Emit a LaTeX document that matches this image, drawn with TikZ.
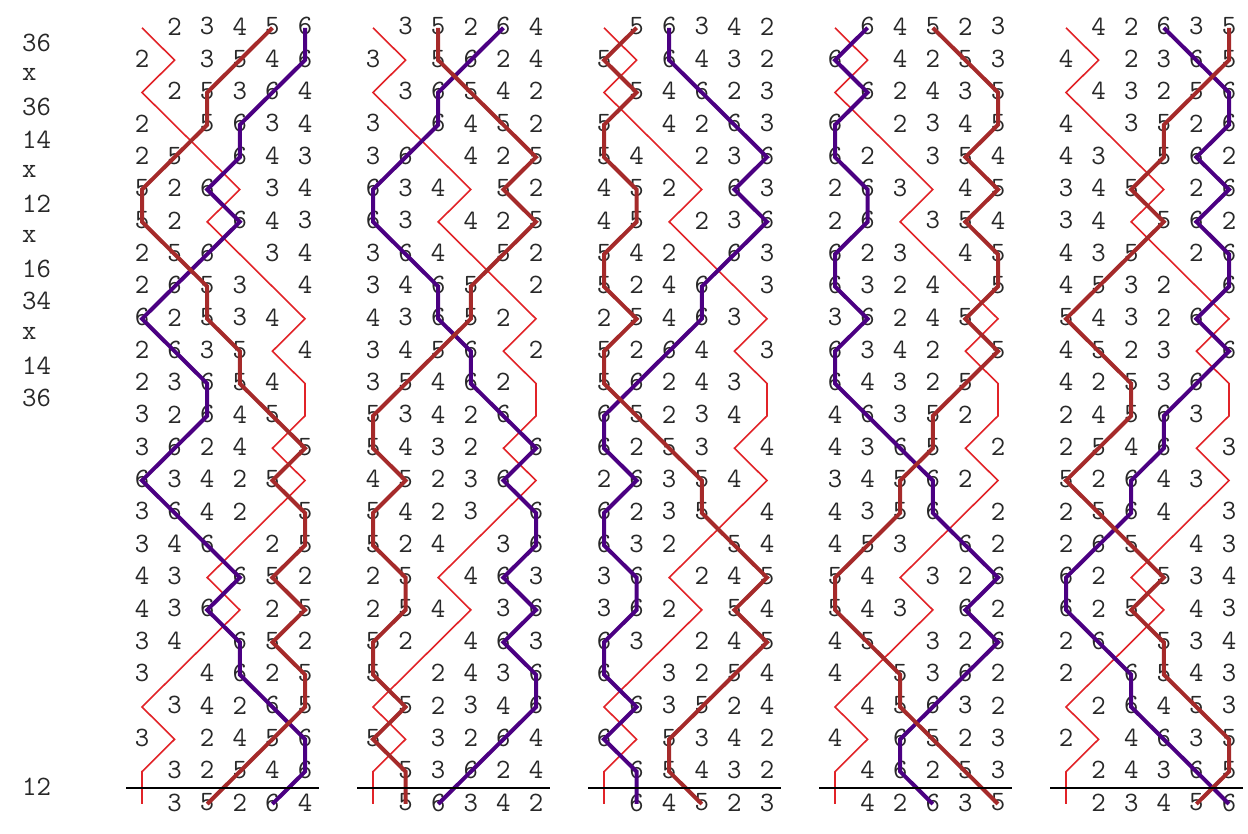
\documentclass[tikz,border=0pt]{standalone}
\usepackage{xcolor}
\usepackage{tikz}
\definecolor{trebred}{RGB}{225,35,40}
\definecolor{fivebrown}{RGB}{165,42,42}
\definecolor{sixpurple}{RGB}{75,0,130}
\definecolor{inkgray}{RGB}{40,40,40}
\tikzset{
  digit/.style={inner sep=0pt,text=inkgray,font=\ttfamily\fontsize{28}{28}\selectfont},
  pn/.style={anchor=west,inner sep=0pt,text=inkgray,font=\ttfamily\fontsize{28}{28}\selectfont},
  trebline/.style={draw=trebred,line width=1.6pt},
  fiveline/.style={draw=fivebrown,line width=4pt},
  sixline/.style={draw=sixpurple,line width=4pt},
  leadend/.style={draw=black,line width=2pt},
}
% rows of the plain lead, from rounds to the lead head
\def\leadrows{{1,2,3,4,5,6},{2,1,3,5,4,6},{1,2,5,3,6,4},{2,1,5,6,3,4},{2,5,1,6,4,3},
  {5,2,6,1,3,4},{5,2,1,6,4,3},{2,5,6,1,3,4},{2,6,5,3,1,4},{6,2,5,3,4,1},
  {2,6,3,5,1,4},{2,3,6,5,4,1},{3,2,6,4,5,1},{3,6,2,4,1,5},{6,3,4,2,5,1},
  {3,6,4,2,1,5},{3,4,6,1,2,5},{4,3,1,6,5,2},{4,3,6,1,2,5},{3,4,1,6,5,2},
  {3,1,4,6,2,5},{1,3,4,2,6,5},{3,1,2,4,5,6},{1,3,2,5,4,6},{1,3,5,2,6,4}}
% lead heads of the five leads
\def\leadheads{{1,2,3,4,5,6},{1,3,5,2,6,4},{1,5,6,3,4,2},{1,6,4,5,2,3},{1,4,2,6,3,5}}

\begin{document}
\begin{tikzpicture}[x=1pt,y=-1pt]
  \useasboundingbox (0,0) rectangle (1248,834);

  % place notation
  \foreach \pl [count=\i] in {36,x,36,14,x,12,x,16,34,x,14,36}
    \node[pn] (pn\i) at (22,{26.3+32.34*(\i-0.5)}) {\pl};
  \node[pn] (pn24) at (22,{26.3+32.34*23.5}) {12};

  % the numbers
  \foreach \hd [count=\c] in \leadheads {
    \edef\headarr{{\hd}}
    \foreach \rw [count=\k] in \leadrows {
      \foreach \b [count=\p] in \rw {
        \pgfmathtruncatemacro\bell{\headarr[\b-1]}
        \coordinate (b\c-\k-\bell) at ({142+231*(\c-1)+32.6*(\p-1)},{27.8+32.34*(\k-1)});
        \ifnum\bell>1
          \node[digit] (d\c-\k-\bell) at ({142+231*(\c-1)+32.6*(\p-1)},{26.3+32.34*(\k-1)}) {\bell};
        \fi
      }
    }
  }

  % paths of the treble, the 6 and the 5, then the lead end
  \foreach \c in {1,...,5} {
    \draw[trebline] (b\c-1-1) \foreach \k in {2,...,25} { -- (b\c-\k-1) };
    \draw[sixline] (b\c-1-6) \foreach \k in {2,...,25} { -- (b\c-\k-6) };
    \draw[fiveline] (b\c-1-5) \foreach \k in {2,...,25} { -- (b\c-\k-5) };
    \coordinate (le\c-w) at ({126+231*(\c-1)},787.7);
    \coordinate (le\c-e) at ({319+231*(\c-1)},787.7);
    \draw[leadend] (le\c-w) -- (le\c-e);
  }
\end{tikzpicture}
\end{document}
